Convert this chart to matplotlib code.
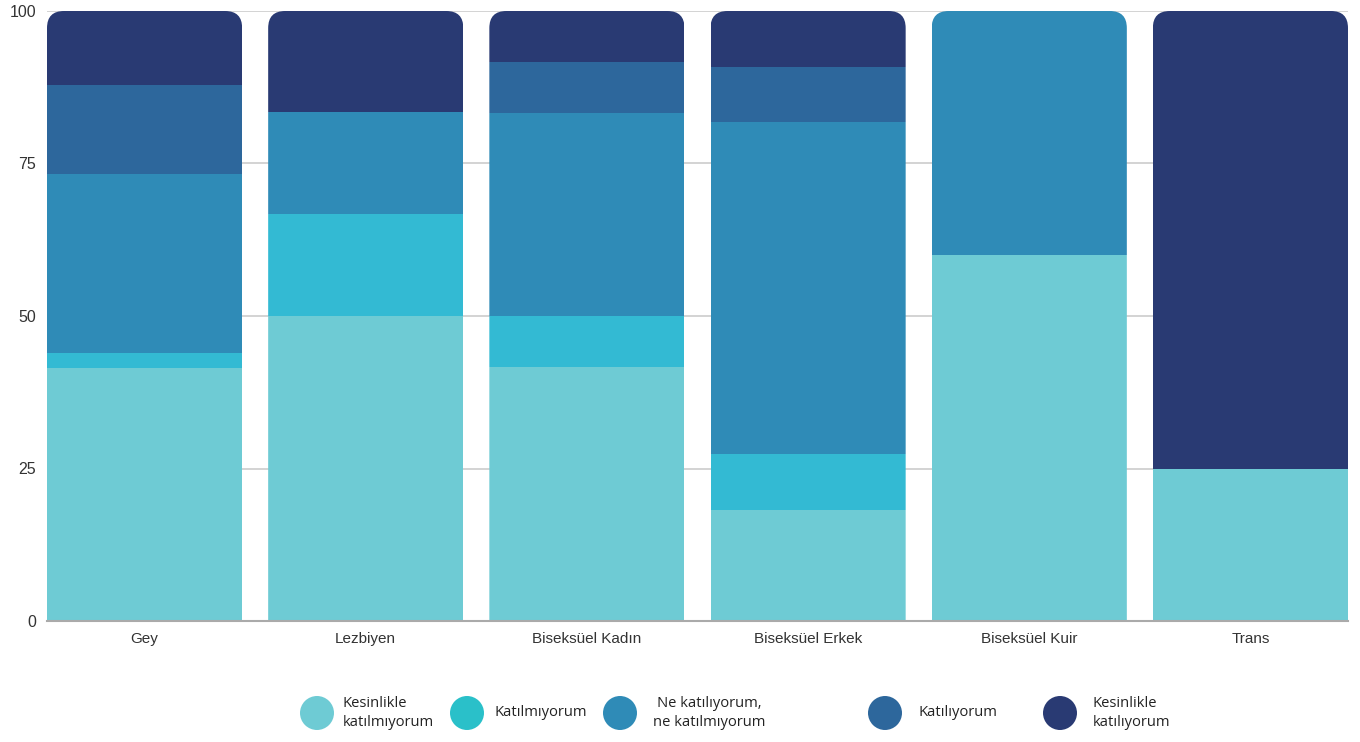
import numpy as np
import matplotlib.pyplot as plt
from matplotlib.patches import FancyBboxPatch, Ellipse

# =================
# data (%)
# =================
categories = ['Gey', 'Lezbiyen', 'Biseksüel Kadın', 'Biseksüel Erkek', 'Biseksüel Kuir', 'Trans']
series_names = ['Kesinlikle\nkatılmıyorum', 'Katılmıyorum', 'Ne katılıyorum,\nne katılmıyorum',
                'Katılıyorum', 'Kesinlikle\nkatılıyorum']

kesinlikle_katilmiyorum = [41.5, 50.0, 41.7, 18.2, 60.0, 25.0]
katilmiyorum = [2.4, 16.7, 8.3, 9.1, 0.0, 0.0]
ne_ne = [29.3, 16.7, 33.3, 54.5, 40.0, 0.0]
katiliyorum = [14.6, 0.0, 8.3, 9.1, 0.0, 0.0]
kesinlikle_katiliyorum = [12.2, 16.6, 8.4, 9.1, 0.0, 75.0]

series = [kesinlikle_katilmiyorum, katilmiyorum, ne_ne, katiliyorum, kesinlikle_katiliyorum]
colors = ['#6ECBD4', '#33BAD3', '#2F8BB7', '#2D679C', '#293A73']
legend_colors = ['#6ECBD4', '#2AC0C9', '#2F8BB7', '#2D679C', '#293A73']

yticks = [0, 25, 50, 75, 100]

# =================
# figure
# =================
fig = plt.figure(figsize=(13.6, 7.42), dpi=100)
ax = fig.add_axes([47/1360, 1-621/742, 1301/1360, 610/742])

width = 195/221
x = np.arange(len(categories))
ax.set_xlim(-width/2, len(categories)-1+width/2)
ax.set_ylim(0, 100)

# rounded top corners -> clip paths
rx = 17/221
ry = 17/6.1
clips = []
for xi in x:
    cp = FancyBboxPatch((xi-width/2, -20), width, 120,
                        boxstyle='round,pad=0,rounding_size=%f' % rx,
                        mutation_aspect=ry/rx, transform=ax.transData,
                        facecolor='none', edgecolor='none')
    clips.append(cp)

bottom = np.zeros(len(categories))
for vals, col in zip(series, colors):
    vals = np.array(vals)
    bars = ax.bar(x, vals, width=width, bottom=bottom, color=col, linewidth=0, zorder=3)
    for b, cp in zip(bars, clips):
        b.set_clip_path(cp)
    bottom += vals

ax.set_yticks(yticks)
ax.set_xticks(x)
ax.set_xticklabels(categories)
ax.grid(axis='y', color='#cccccc', linewidth=1.2, zorder=0)
ax.tick_params(length=0, labelcolor='#333333')
ax.tick_params(axis='y', pad=8, labelsize=11.5)
ax.tick_params(axis='x', pad=8, labelsize=11)
for lab in ax.get_xticklabels() + ax.get_yticklabels():
    lab.set_fontfamily('Liberation Sans')
for s in ['top', 'right', 'left']:
    ax.spines[s].set_visible(False)
ax.spines['bottom'].set_color('#aaaaaa')
ax.spines['bottom'].set_linewidth(1.5)
ax.spines['bottom'].set_zorder(4)

# =================
# legend (manual)
# =================
circ_x = [317, 467, 620, 885, 1060]
text_x = [343, 495, 709, 918, 1093]
aligns = ['left', 'left', 'center', 'left', 'left']
cy = 1 - 713/742
for cx, tx, ha, name, col in zip(circ_x, text_x, aligns, series_names, legend_colors):
    e = Ellipse((cx/1360, cy), 34/1360, 34/742, transform=fig.transFigure,
                facecolor=col, edgecolor='none')
    fig.add_artist(e)
    fig.text(tx/1360, cy, name, ha=ha, va='center', multialignment=ha,
             fontsize=10.6, fontweight='medium', color='#222222',
             family=['Open Sans', 'DejaVu Sans'], linespacing=1.35)

fig.savefig('out.png', dpi=100)
